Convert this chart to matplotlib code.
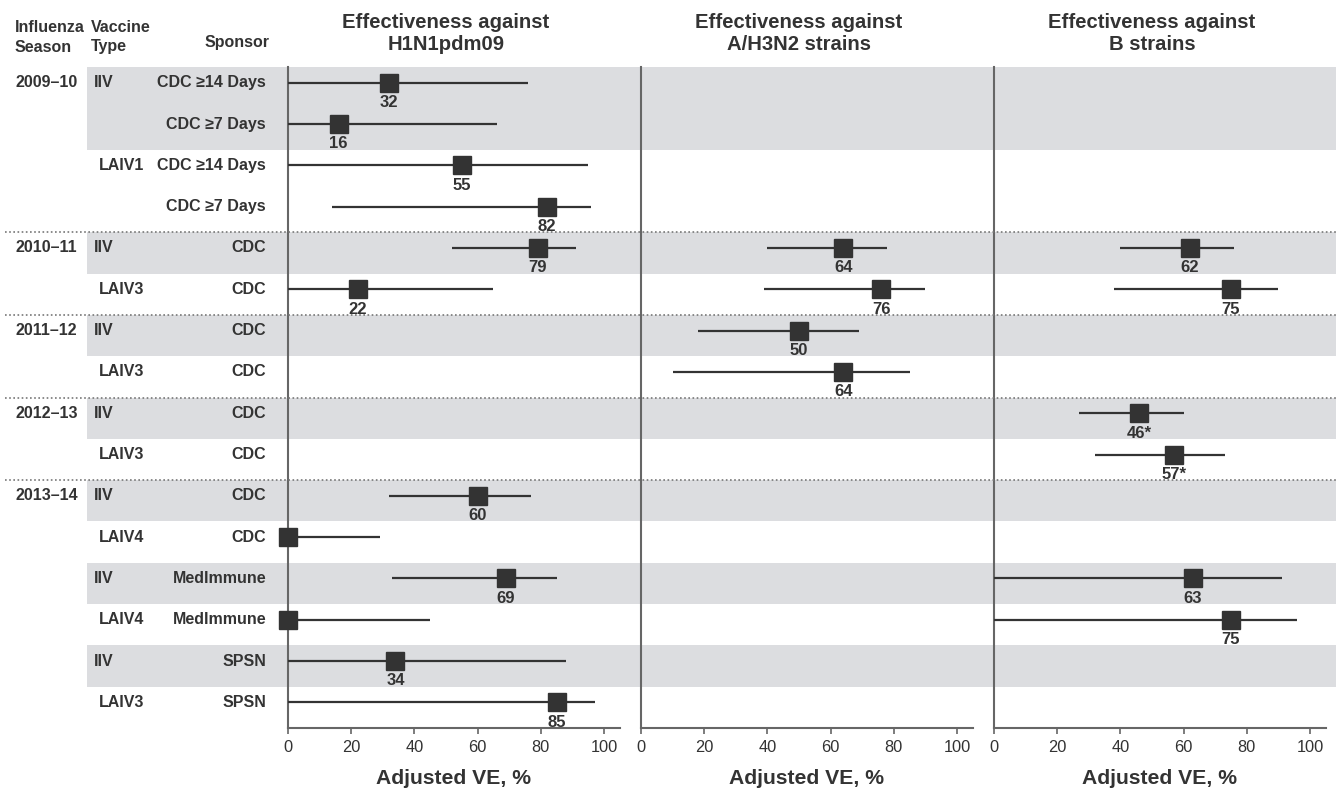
import matplotlib
matplotlib.use("Agg")
import matplotlib.pyplot as plt
from matplotlib.transforms import blended_transform_factory

plt.rcParams['font.family'] = ['Liberation Sans', 'DejaVu Sans']

# ---------------- data ----------------
seasons = ["2009–10", "", "", "", "2010–11", "", "2011–12", "", "2012–13", "",
           "2013–14", "", "", "", "", ""]
vtypes = ["IIV", "", "LAIV1", "", "IIV", "LAIV3", "IIV", "LAIV3", "IIV", "LAIV3",
          "IIV", "LAIV4", "IIV", "LAIV4", "IIV", "LAIV3"]
sponsors = ["CDC ≥14 Days", "CDC ≥7 Days", "CDC ≥14 Days", "CDC ≥7 Days",
            "CDC", "CDC", "CDC", "CDC", "CDC", "CDC", "CDC", "CDC",
            "MedImmune", "MedImmune", "SPSN", "SPSN"]

# H1N1pdm09
h1_ve = [32, 16, 55, 82, 79, 22, None, None, None, None, 60, 0, 69, 0, 34, 85]
h1_lo = [0, 0, 0, 14, 52, 0, None, None, None, None, 32, 0, 33, 0, 0, 0]
h1_hi = [76, 66, 95, 96, 91, 65, None, None, None, None, 77, 29, 85, 45, 88, 97]
h1_lab = ["32", "16", "55", "82", "79", "22", None, None, None, None,
          "60", None, "69", None, "34", "85"]

# A/H3N2
h3_ve = [None, None, None, None, 64, 76, 50, 64, None, None, None, None, None, None, None, None]
h3_lo = [None, None, None, None, 40, 39, 18, 10, None, None, None, None, None, None, None, None]
h3_hi = [None, None, None, None, 78, 90, 69, 85, None, None, None, None, None, None, None, None]
h3_lab = [None, None, None, None, "64", "76", "50", "64", None, None, None, None, None, None, None, None]

# B
b_ve = [None, None, None, None, 62, 75, None, None, 46, 57, None, None, 63, 75, None, None]
b_lo = [None, None, None, None, 40, 38, None, None, 27, 32, None, None, 0, 0, None, None]
b_hi = [None, None, None, None, 76, 90, None, None, 60, 73, None, None, 91, 96, None, None]
b_lab = [None, None, None, None, "62", "75", None, None, "46*", "57*", None, None, "63", "75", None, None]

titles = [("Effectiveness against", "H1N1pdm09"),
          ("Effectiveness against", "A/H3N2 strains"),
          ("Effectiveness against", "B strains")]
xticks = [0, 20, 40, 60, 80, 100]
shaded_rows = [0, 1, 4, 6, 8, 10, 12, 14]
season_breaks = [4, 6, 8, 10]

# ---------------- layout ----------------
W, H = 1336, 791
fig = plt.figure(figsize=(W / 100, H / 100), dpi=100)
top_px, bot_px = 67, 728
ax_b = 1 - bot_px / H
ax_h = (bot_px - top_px) / H
nrows = len(sponsors)
MARK_OFF = 0.38
LAB_OFF = 0.86
DARK = "#333333"
BAND = "#dcdde0"
ROWFS = 11.5

# background axis (bands, dotted lines, row labels)
bg = fig.add_axes([0, ax_b, 1, ax_h], zorder=0)
bg.set_xlim(0, W)
bg.set_ylim(nrows, 0)
bg.axis("off")
for r in shaded_rows:
    bg.axhspan(r, r + 1, xmin=87 / W, xmax=1, color=BAND, lw=0, zorder=0)

for i in range(nrows):
    y = i + MARK_OFF
    if seasons[i]:
        bg.text(15, y, seasons[i], ha="left", va="center", fontsize=ROWFS,
                fontweight="bold", color=DARK)
    if vtypes[i]:
        x = 94 if vtypes[i] == "IIV" else 99
        bg.text(x, y, vtypes[i], ha="left", va="center", fontsize=ROWFS,
                fontweight="bold", color=DARK)
    bg.text(266, y, sponsors[i], ha="right", va="center", fontsize=ROWFS,
            fontweight="bold", color=DARK)

# headers
def fy(px):
    return 1 - px / H

for txt, x, y, ha in [("Influenza", 15, 27, "left"), ("Season", 15, 47, "left"),
                      ("Vaccine", 91, 27, "left"), ("Type", 91, 47, "left"),
                      ("Sponsor", 237, 43, "center")]:
    fig.text(x / W, fy(y), txt, ha=ha, va="center", fontsize=11.5,
             fontweight="bold", color=DARK)

panel_left = [288, 641, 994]
XMAX = 105
px_per = 3.16
series = [(h1_ve, h1_lo, h1_hi, h1_lab), (h3_ve, h3_lo, h3_hi, h3_lab),
          (b_ve, b_lo, b_hi, b_lab)]

for k, (left, (ve, lo, hi, lab)) in enumerate(zip(panel_left, series)):
    ax = fig.add_axes([left / W, ax_b, XMAX * px_per / W, ax_h], zorder=2)
    ax.patch.set_alpha(0)
    ax.set_xlim(0, XMAX)
    ax.set_ylim(nrows, 0)
    for s in ["top", "right"]:
        ax.spines[s].set_visible(False)
    for s in ["left", "bottom"]:
        ax.spines[s].set_color("#666666")
        ax.spines[s].set_linewidth(1.5)
    ax.set_yticks([])
    ax.set_xticks(xticks)
    ax.tick_params(axis="x", length=4, width=1.2, color="#666666", pad=5,
                   labelsize=11.8, labelcolor=DARK)
    ax.set_xlabel("Adjusted VE, %", fontsize=15.2, fontweight="bold",
                  color=DARK, labelpad=10)
    for i in range(nrows):
        if ve[i] is None:
            continue
        y = i + MARK_OFF
        ax.plot([lo[i], hi[i]], [y, y], color=DARK, lw=1.6, solid_capstyle="butt",
                zorder=3)
        ax.plot([ve[i]], [y], marker="s", markersize=12.3, color=DARK,
                clip_on=False, zorder=4)
        if lab[i]:
            ax.text(ve[i], i + LAB_OFF, lab[i], ha="center", va="center",
                    fontsize=12, fontweight="bold", color=DARK)
    tr = blended_transform_factory(ax.transData, fig.transFigure)
    ax.text(50, fy(22), titles[k][0], transform=tr, ha="center", va="center",
            fontsize=14.6, fontweight="bold", color=DARK)
    ax.text(50, fy(44), titles[k][1], transform=tr, ha="center", va="center",
            fontsize=14.6, fontweight="bold", color=DARK)

# dotted season separators on top of everything
ov = fig.add_axes([0, ax_b, 1, ax_h], zorder=3)
ov.set_xlim(0, W)
ov.set_ylim(nrows, 0)
ov.axis("off")
ov.patch.set_alpha(0)
for b in season_breaks:
    ov.axhline(b, xmin=5 / W, xmax=1, color="#777777", lw=1.2,
               linestyle=(0, (1, 1.5)))

fig.savefig("out.png", dpi=100)
